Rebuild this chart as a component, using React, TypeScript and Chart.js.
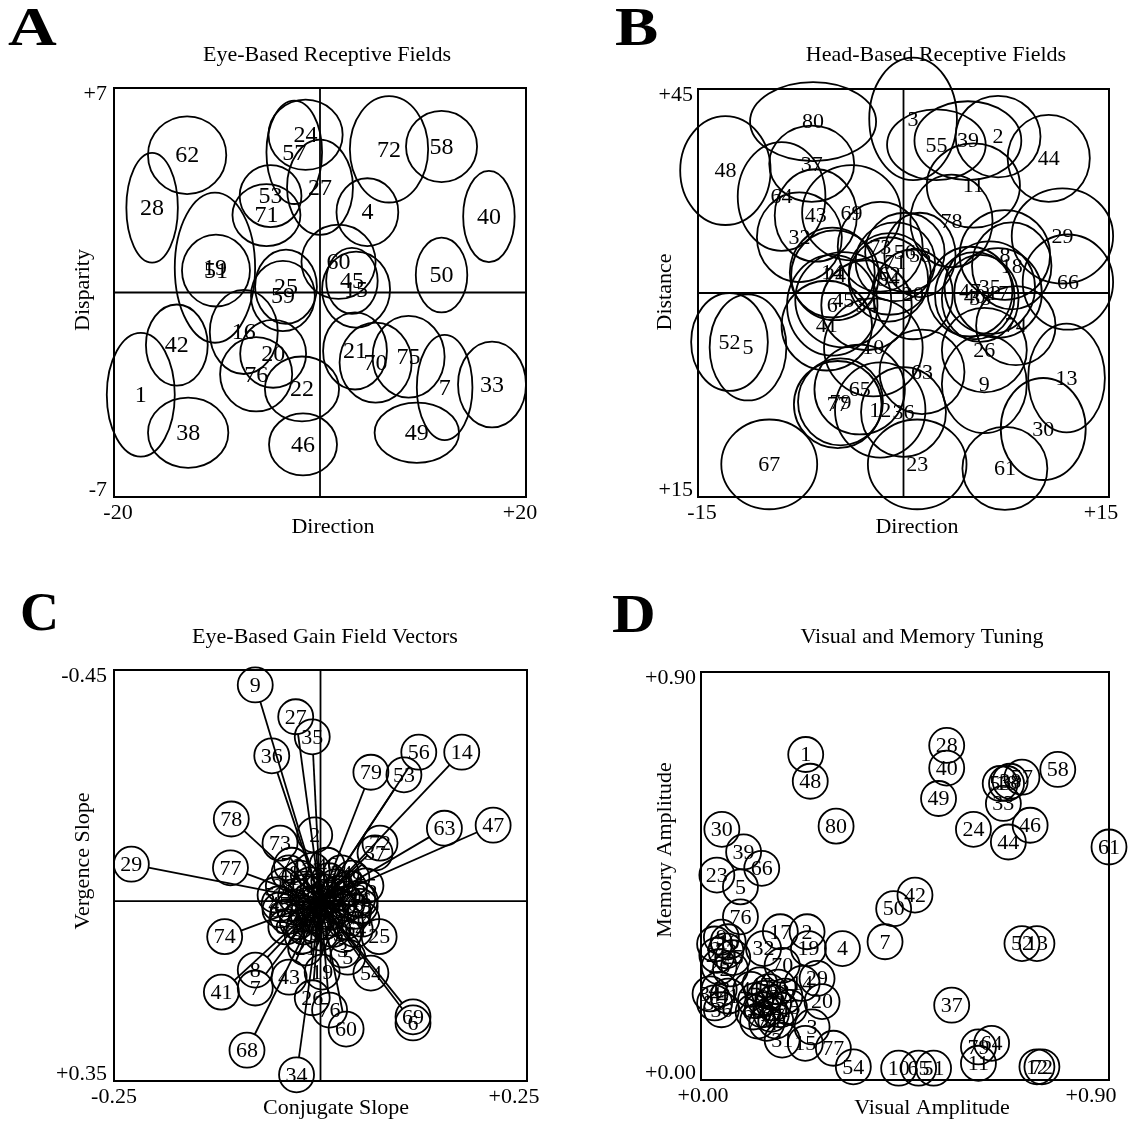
import React, { useEffect, useRef } from 'react';
import { Chart, registerables } from 'chart.js';

Chart.register(...registerables);

const FONT = '"Liberation Serif", "Times New Roman", Times, serif';

// ---------- Panel A: Eye-Based Receptive Fields ----------
const aLabels = ['62','28','24','57','27','53','71','4','72','58','40','50','51','19','25','59','60','45','15','21','70','75','7','33','49','46','22','20','76','16','42','1','38'];
const aDirection = [-12.9,-16.3,-1.4,-2.5,0.0,-4.8,-5.2,4.6,6.7,11.8,16.4,11.8,-10.1,-10.2,-3.3,-3.6,1.8,3.1,3.5,3.4,5.4,8.6,12.1,16.7,9.4,-1.65,-1.75,-4.55,-6.2,-7.4,-13.9,-17.4,-12.8];
const aDisparity = [4.7,2.9,5.4,4.8,3.6,3.3,2.65,2.75,4.9,5.0,2.6,0.6,0.75,0.85,0.2,-0.12,1.05,0.4,0.1,-2.0,-2.4,-2.2,-3.25,-3.15,-4.8,-5.2,-3.3,-2.1,-2.8,-1.35,-1.8,-3.5,-4.8];
const aHalfWidth = [3.8,2.5,3.6,2.7,3.2,3.0,3.3,3.0,3.8,3.45,2.5,2.5,3.3,3.9,3.0,3.1,3.6,2.5,3.3,3.1,3.5,3.5,2.7,3.3,4.1,3.3,3.6,3.2,3.5,3.3,3.0,3.3,3.9];
const aHalfHeight = [1.33,1.88,1.2,1.77,1.63,1.06,1.06,1.16,1.82,1.22,1.56,1.28,1.23,2.57,1.27,1.2,1.27,1.13,1.3,1.32,1.37,1.4,1.8,1.47,1.03,1.06,1.11,1.16,1.27,1.44,1.39,2.12,1.2];
const aXTicks = ['-20', '+20'];
const aYTicks = ['-7', '+7'];

// ---------- Panel B: Head-Based Receptive Fields ----------
const bLabels = ['80','48','3','55','39','2','44','37','64','43','69','32','78','11','29','66','8','18','73','56','58','71','54','14','47','40','33','20','52','5','6','41','34','63','26','74','9','13','30','61','23','36','12','65','79','77','67','24','62','35','17','10','45'];
const bDirection = [-6.6,-13.0,0.7,2.4,4.7,6.9,10.6,-6.7,-8.9,-6.4,-3.8,-7.6,3.5,5.1,11.6,12.0,7.4,7.9,-1.7,0.1,1.2,-0.6,-1.1,-5.2,4.85,5.2,5.6,0.7,-12.7,-11.35,-5.2,-5.6,-2.7,1.35,5.9,8.2,5.9,11.9,10.2,7.4,1.0,0.0,-1.7,-3.2,-4.6,-4.8,-9.8,-5.0,-1.0,6.3,6.9,-2.2,-4.4];
const bDistance = [42.6,39.0,42.8,40.9,41.2,41.5,39.9,39.5,37.1,35.7,35.9,34.1,35.3,37.9,34.2,30.8,32.8,32.0,33.4,33.0,32.8,32.3,31.0,31.5,30.1,29.8,29.6,29.9,26.4,26.0,29.1,27.6,29.1,24.2,25.8,27.6,23.3,23.75,20.0,17.1,17.4,21.25,21.4,22.9,22.0,21.8,17.4,31.3,31.4,30.4,30.0,26.0,29.5];
const bHalfWidth = [4.6,3.3,3.2,3.6,3.9,3.1,3.0,3.1,3.2,3.0,3.6,3.1,3.0,3.4,3.7,3.3,3.3,2.9,3.1,2.9,2.6,2.9,2.9,3.1,3.1,2.9,2.8,2.9,2.8,2.8,3.3,3.3,3.3,3.1,3.1,2.9,3.1,2.8,3.1,3.1,3.6,3.1,3.3,3.3,3.1,3.2,3.5,3.2,3.0,3.3,3.2,3.6,3.5];
const bHalfHeight = [2.9,4.0,4.5,2.6,2.9,3.0,3.2,2.8,4.0,3.4,3.5,3.3,3.4,3.1,3.5,3.5,3.3,3.2,3.3,2.9,3.1,2.9,3.1,3.3,3.3,3.2,3.2,3.3,3.6,3.9,3.7,3.3,3.3,3.1,3.1,2.9,3.6,4.0,3.75,3.05,3.3,3.3,3.5,3.3,3.2,3.2,3.3,3.3,3.0,3.4,3.3,3.6,3.5];
const bXTicks = ['-15', '+15'];
const bYTicks = ['+15', '+45'];

// ---------- Panel C: Eye-Based Gain Field Vectors ----------
const cLabels = ['9','27','35','36','79','53','56','14','78','73','2','72','37','63','47','29','77','74','25','8','7','41','43','54','26','76','60','69','6','68','34','62','16','5','21','19','3',
  '1','4','10','11','12','13','15','17','18','20','22','23','24','28','30','31','32','33','38','39','40','42','44','45','46','48','49','50','51','52','55','57','58','59','61','64','65','66','67','70','71','75','80'];
const cConjugate = [-0.079,-0.030,-0.010,-0.059,0.061,0.101,0.119,0.171,-0.108,-0.049,-0.007,0.072,0.066,0.150,0.209,-0.229,-0.109,-0.116,0.071,-0.079,-0.079,-0.120,-0.038,0.061,-0.010,0.011,0.031,0.112,0.112,-0.089,-0.029,-0.049,0.048,0.033,-0.018,0.002,0.027,
  0.000,0.020,-0.015,0.010,-0.030,0.035,0.005,-0.025,0.040,-0.040,0.015,-0.010,0.025,-0.045,0.045,-0.020,0.030,-0.005,0.012,-0.032,0.022,-0.012,0.050,-0.050,0.008,-0.038,0.038,-0.022,0.028,-0.055,0.055,0.000,-0.028,0.018,-0.008,0.042,-0.042,0.032,-0.018,0.006,-0.035,0.048,-0.006];
const cVergence = [-0.421,-0.359,-0.320,-0.283,-0.251,-0.246,-0.290,-0.290,-0.160,-0.113,-0.129,-0.113,-0.094,-0.142,-0.148,-0.072,-0.065,0.069,0.069,0.134,0.169,0.177,0.148,0.140,0.188,0.212,0.249,0.225,0.237,0.290,0.338,0.017,-0.002,0.109,0.091,0.138,0.095,
  -0.020,0.010,0.025,-0.040,-0.010,-0.025,0.040,-0.045,0.020,0.030,0.055,-0.060,-0.055,-0.030,-0.005,0.050,0.040,0.005,0.022,0.012,-0.015,-0.032,0.035,0.005,-0.070,-0.055,-0.045,0.068,0.065,-0.012,-0.030,0.062,0.040,-0.028,0.045,0.055,0.050,0.005,-0.018,-0.008,-0.070,0.010,0.030];
const cXTicks = ['-0.25', '+0.25'];
const cYTicks = ['-0.45', '+0.35'];

// ---------- Panel D: Visual and Memory Tuning ----------
const dLabels = ['1','48','80','28','40','49','58','57','18','38','53','33','24','46','44','61','30','39','66','23','5','76','17','2','19','32','4','7','50','42','52','13','37','79','64','11','12','72','10','65','51','54','77','15','31','3','20','29','14','70',
  '6','9','16','21','22','25','26','27','35','34','36','41','43','45','47','55','56','59','60','62','63','67','68','69','71','73','74','75','78'];
const dVisual = [0.231,0.241,0.298,0.542,0.542,0.524,0.787,0.708,0.674,0.682,0.660,0.667,0.601,0.726,0.678,0.9,0.046,0.094,0.134,0.035,0.087,0.087,0.175,0.234,0.237,0.138,0.312,0.406,0.425,0.472,0.708,0.741,0.553,0.612,0.641,0.612,0.741,0.752,0.436,0.480,0.513,0.336,0.292,0.230,0.179,0.245,0.267,0.256,0.223,0.179,
  0.030,0.045,0.060,0.035,0.055,0.070,0.040,0.065,0.030,0.020,0.045,0.060,0.040,0.110,0.130,0.150,0.170,0.120,0.140,0.160,0.185,0.115,0.135,0.155,0.175,0.125,0.145,0.195,0.165];
const dMemory = [0.718,0.659,0.560,0.738,0.688,0.621,0.685,0.668,0.654,0.659,0.654,0.610,0.553,0.562,0.525,0.514,0.553,0.503,0.467,0.452,0.426,0.360,0.327,0.327,0.290,0.290,0.290,0.305,0.378,0.408,0.301,0.301,0.165,0.073,0.081,0.037,0.029,0.029,0.026,0.026,0.026,0.029,0.070,0.081,0.088,0.117,0.173,0.224,0.213,0.253,
  0.300,0.315,0.305,0.275,0.285,0.270,0.250,0.245,0.170,0.190,0.155,0.185,0.200,0.200,0.210,0.195,0.205,0.175,0.180,0.170,0.185,0.150,0.155,0.145,0.155,0.130,0.125,0.160,0.130];
const dXTicks = ['+0.00', '+0.90'];
const dYTicks = ['+0.00', '+0.90'];

const W = 566;
const H = 561;
const R = 17.5;

type Spec = {
  kind: 'ellipse' | 'vector' | 'circle';
  letter: string; title: string; xTitle: string; yTitle: string;
  left: number; top: number;
  area: { l: number; t: number; r: number; b: number };
  xMin: number; xMax: number; yMin: number; yMax: number; yReverse: boolean;
  xTicks: string[]; yTicks: string[];
  xShift: number[]; yGap: number; labelSize: number; letterScale: number;
  cross: number[] | null;
  labels: string[]; xs: number[]; ys: number[]; rxs?: number[]; rys?: number[];
  pos: { letter: number[]; title: number[]; xTitle: number[]; yTitle: number[] };
};

const specs: Spec[] = [
  {
    kind: 'ellipse', letter: 'A', title: 'Eye-Based Receptive Fields', xTitle: 'Direction', yTitle: 'Disparity',
    left: 0, top: 0, area: { l: 114, t: 88, r: 526, b: 497 },
    xMin: -20, xMax: 20, yMin: -7, yMax: 7, yReverse: false, xTicks: aXTicks, yTicks: aYTicks,
    xShift: [4, -6], yGap: 7, labelSize: 24, letterScale: 1.25, cross: [0, 0],
    labels: aLabels, xs: aDirection, ys: aDisparity, rxs: aHalfWidth, rys: aHalfHeight,
    pos: { letter: [8, 45], title: [327, 55], xTitle: [333, 527], yTitle: [83, 290] },
  },
  {
    kind: 'ellipse', letter: 'B', title: 'Head-Based Receptive Fields', xTitle: 'Direction', yTitle: 'Distance',
    left: 566, top: 0, area: { l: 132, t: 89, r: 543, b: 497 },
    xMin: -15, xMax: 15, yMin: 15, yMax: 45, yReverse: false, xTicks: bXTicks, yTicks: bYTicks,
    xShift: [4, -8], yGap: 5, labelSize: 22, letterScale: 1.2, cross: [0, 30],
    labels: bLabels, xs: bDirection, ys: bDistance, rxs: bHalfWidth, rys: bHalfHeight,
    pos: { letter: [49, 45], title: [370, 55], xTitle: [351, 527], yTitle: [99, 292] },
  },
  {
    kind: 'vector', letter: 'C', title: 'Eye-Based Gain Field Vectors', xTitle: 'Conjugate Slope', yTitle: 'Vergence Slope',
    left: 0, top: 561, area: { l: 114, t: 109, r: 527, b: 520 },
    xMin: -0.25, xMax: 0.25, yMin: -0.45, yMax: 0.35, yReverse: true, xTicks: cXTicks, yTicks: cYTicks,
    xShift: [0, -13], yGap: 7, labelSize: 22, letterScale: 1.0, cross: [0, 0],
    labels: cLabels, xs: cConjugate, ys: cVergence,
    pos: { letter: [20, 69], title: [325, 76], xTitle: [336, 547], yTitle: [83, 300] },
  },
  {
    kind: 'circle', letter: 'D', title: 'Visual and Memory Tuning', xTitle: 'Visual Amplitude', yTitle: 'Memory Amplitude',
    left: 566, top: 561, area: { l: 135, t: 111, r: 543, b: 519 },
    xMin: 0, xMax: 0.9, yMin: 0, yMax: 0.9, yReverse: false, xTicks: dXTicks, yTicks: dYTicks,
    xShift: [2, -18], yGap: 5, labelSize: 22, letterScale: 1.12, cross: null,
    labels: dLabels, xs: dVisual, ys: dMemory,
    pos: { letter: [46, 71], title: [356, 76], xTitle: [366, 547], yTitle: [99, 289] },
  },
];

function makePlugin(spec: Spec) {
  return {
    id: 'decor' + spec.letter,
    beforeDatasetsDraw(chart: any) {
      const { ctx, chartArea: a, scales } = chart;
      const xs = scales.x;
      const ys = scales.y;
      ctx.save();
      ctx.strokeStyle = '#000';
      ctx.lineWidth = 2;
      ctx.strokeRect(a.left, a.top, a.right - a.left, a.bottom - a.top);
      if (spec.cross) {
        const cx = xs.getPixelForValue(spec.cross[0]);
        const cy = ys.getPixelForValue(spec.cross[1]);
        ctx.lineWidth = 1.8;
        ctx.beginPath();
        ctx.moveTo(cx, a.top); ctx.lineTo(cx, a.bottom);
        ctx.moveTo(a.left, cy); ctx.lineTo(a.right, cy);
        ctx.stroke();
      }
      const meta = chart.getDatasetMeta(0);
      const raw = chart.data.datasets[0].data;
      if (spec.kind === 'ellipse') {
        ctx.lineWidth = 1.8;
        meta.data.forEach((pt: any, i: number) => {
          const d = raw[i];
          const rx = Math.abs(xs.getPixelForValue(d.x + d.rx) - pt.x);
          const ry = Math.abs(ys.getPixelForValue(d.y + d.ry) - pt.y);
          ctx.beginPath();
          ctx.ellipse(pt.x, pt.y, rx, ry, 0, 0, Math.PI * 2);
          ctx.stroke();
        });
      }
      if (spec.kind === 'vector') {
        const ox = xs.getPixelForValue(0);
        const oy = ys.getPixelForValue(0);
        ctx.lineWidth = 1.8;
        meta.data.forEach((pt: any) => {
          const dx = pt.x - ox;
          const dy = pt.y - oy;
          const len = Math.hypot(dx, dy);
          if (len <= R) return;
          ctx.beginPath();
          ctx.moveTo(ox, oy);
          ctx.lineTo(pt.x - (dx / len) * R, pt.y - (dy / len) * R);
          ctx.stroke();
        });
      }
      ctx.restore();
    },
    afterDatasetsDraw(chart: any) {
      const { ctx, chartArea: a, scales } = chart;
      const meta = chart.getDatasetMeta(0);
      ctx.save();
      ctx.fillStyle = '#000';
      ctx.textAlign = 'center';
      ctx.textBaseline = 'middle';
      ctx.font = `${spec.labelSize}px ${FONT}`;
      meta.data.forEach((pt: any, i: number) => {
        ctx.fillText(spec.labels[i], pt.x, pt.y + 1);
      });
      ctx.font = `22px ${FONT}`;
      // tick labels at the scale ends
      const xsc = scales.x;
      xsc.ticks.forEach((t: any, i: number) => {
        const px = xsc.getPixelForValue(t.value);
        ctx.textAlign = 'center';
        ctx.fillText(spec.xTicks[i], px + (i === 0 ? spec.xShift[0] : spec.xShift[1]), a.bottom + 16);
      });
      const ysc = scales.y;
      ysc.ticks.forEach((t: any, i: number) => {
        const py = ysc.getPixelForValue(t.value);
        const off = Math.abs(py - a.top) < 2 ? 6 : -7;
        ctx.textAlign = 'right';
        ctx.fillText(spec.yTicks[i], a.left - spec.yGap, py + off);
      });
      // title and axis titles
      ctx.textAlign = 'center';
      ctx.fillText(spec.title, spec.pos.title[0], spec.pos.title[1]);
      ctx.fillText(spec.xTitle, spec.pos.xTitle[0], spec.pos.xTitle[1]);
      ctx.save();
      ctx.translate(spec.pos.yTitle[0], spec.pos.yTitle[1]);
      ctx.rotate(-Math.PI / 2);
      ctx.fillText(spec.yTitle, 0, 0);
      ctx.restore();
      // panel letter
      ctx.textAlign = 'left';
      ctx.textBaseline = 'alphabetic';
      ctx.font = `bold 54px ${FONT}`;
      ctx.translate(spec.pos.letter[0], spec.pos.letter[1]);
      ctx.scale(spec.letterScale, 1);
      ctx.fillText(spec.letter, 0, 0);
      ctx.restore();
    },
  };
}

function buildConfig(spec: Spec): any {
  const a = spec.area;
  const data = spec.xs.map((x, i) => ({
    x,
    y: spec.ys[i],
    rx: spec.rxs ? spec.rxs[i] : 0,
    ry: spec.rys ? spec.rys[i] : 0,
  }));
  const isCircle = spec.kind !== 'ellipse';
  return {
    type: 'scatter',
    data: {
      datasets: [
        {
          data,
          pointRadius: isCircle ? R : 0,
          pointHoverRadius: isCircle ? R : 0,
          pointBorderWidth: 1.8,
          pointBorderColor: '#000',
          pointBackgroundColor: 'rgba(0,0,0,0)',
          clip: false,
        },
      ],
    },
    options: {
      responsive: false,
      animation: false,
      events: [],
      devicePixelRatio: 1,
      layout: { autoPadding: false, padding: { left: 0, top: a.t, right: W - a.r, bottom: 0 } },
      plugins: { legend: { display: false }, tooltip: { enabled: false }, title: { display: false } },
      scales: {
        x: {
          type: 'linear', position: 'bottom', min: spec.xMin, max: spec.xMax,
          grid: { display: false, drawTicks: false }, border: { display: false },
          afterBuildTicks: (s: any) => { s.ticks = [{ value: spec.xMin }, { value: spec.xMax }]; },
          afterFit: (s: any) => { s.height = H - a.b; s.paddingLeft = 0; s.paddingRight = 0; },
          ticks: { display: false },
        },
        y: {
          type: 'linear', position: 'left', min: spec.yMin, max: spec.yMax, reverse: spec.yReverse,
          grid: { display: false, drawTicks: false }, border: { display: false },
          afterBuildTicks: (s: any) => { s.ticks = [{ value: spec.yMin }, { value: spec.yMax }]; },
          afterFit: (s: any) => { s.width = a.l; s.paddingTop = 0; s.paddingBottom = 0; },
          ticks: { display: false },
        },
      },
    },
    plugins: [makePlugin(spec)],
  };
}

function Panel({ spec }: { spec: Spec }) {
  const ref = useRef<HTMLCanvasElement>(null);
  useEffect(() => {
    if (!ref.current) return;
    const chart = new Chart(ref.current, buildConfig(spec));
    return () => chart.destroy();
  }, [spec]);
  return (
    <canvas
      ref={ref}
      width={W}
      height={H}
      style={{ position: 'absolute', left: spec.left, top: spec.top, width: W, height: H }}
    />
  );
}

export default function App() {
  return (
    <div style={{ position: 'absolute', left: 0, top: 0, width: 1132, height: 1122, background: '#fff', overflow: 'hidden' }}>
      {specs.map((s) => (
        <Panel key={s.letter} spec={s} />
      ))}
    </div>
  );
}
